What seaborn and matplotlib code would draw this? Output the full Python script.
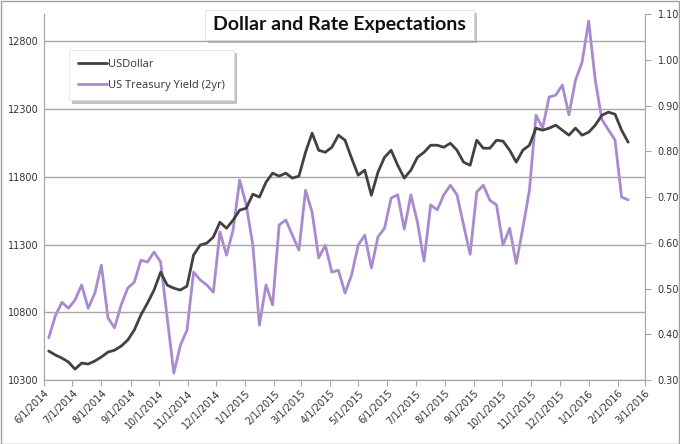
import numpy as np
import pandas as pd
import matplotlib
matplotlib.use("Agg")
import matplotlib.pyplot as plt
import matplotlib.dates as mdates
from matplotlib.patches import Rectangle
import seaborn as sns

# weekly readings, Fridays 6/6/2014 .. 2/12/2016
dates = pd.date_range("2014-06-06", "2016-02-12", freq="W-FRI")

usd = [10514, 10485, 10462, 10433, 10380, 10425, 10418, 10440, 10470, 10506,
       10520, 10550, 10595, 10669, 10780, 10868, 10964, 11096, 11000, 10978,
       10964, 10993, 11222, 11296, 11310, 11355, 11465, 11420, 11480, 11554,
       11568, 11672, 11650, 11760, 11827, 11805, 11827, 11790, 11805, 11981,
       12122, 11996, 11981, 12018, 12107, 12070, 11937, 11812, 11849, 11664,
       11834, 11944, 11996, 11885, 11790, 11849, 11944, 11981, 12033, 12033,
       12018, 12048, 11996, 11908, 11885, 12070, 12011, 12011, 12070, 12063,
       11996, 11908, 11996, 12033, 12159, 12144, 12159, 12181, 12144, 12107,
       12159, 12107, 12129, 12181, 12254, 12277, 12262, 12144, 12055]

yield_2yr = [0.392, 0.440, 0.470, 0.457, 0.475, 0.508, 0.457, 0.490, 0.551, 0.436,
             0.414, 0.464, 0.501, 0.514, 0.562, 0.558, 0.580, 0.558, 0.436, 0.315,
             0.376, 0.409, 0.536, 0.519, 0.508, 0.492, 0.624, 0.573, 0.628, 0.737,
             0.683, 0.595, 0.420, 0.508, 0.464, 0.639, 0.650, 0.617, 0.584, 0.715,
             0.667, 0.567, 0.595, 0.536, 0.540, 0.490, 0.530, 0.595, 0.617, 0.545,
             0.613, 0.632, 0.698, 0.705, 0.630, 0.705, 0.645, 0.560, 0.683, 0.672,
             0.705, 0.726, 0.705, 0.639, 0.575, 0.711, 0.726, 0.693, 0.683, 0.595,
             0.632, 0.555, 0.632, 0.715, 0.879, 0.851, 0.919, 0.923, 0.945, 0.880,
             0.956, 0.995, 1.085, 0.956, 0.870, 0.847, 0.825, 0.700, 0.694]

usd_ticks = [10300, 10800, 11300, 11800, 12300, 12800]
yield_ticks = [0.30, 0.40, 0.50, 0.60, 0.70, 0.80, 0.90, 1.00, 1.10]

df = pd.DataFrame({"Date": dates, "USDollar": usd, "Yield": yield_2yr})

sns.set_style("white")
plt.rcParams["font.family"] = ["DejaVu Sans"]

fig = plt.figure(figsize=(6.8, 4.44), dpi=100)
ax = fig.add_axes([0.0647, 0.1441, 0.884, 0.8239])
ax2 = ax.twinx()

dark = "#424242"
purple = "#a98ad0"
grid_c = "#a6a6a6"

sns.lineplot(data=df, x="Date", y="Yield", ax=ax2, color=purple, linewidth=2.0,
             label="US Treasury Yield (2yr)", legend=False)
sns.lineplot(data=df, x="Date", y="USDollar", ax=ax, color=dark, linewidth=2.0,
             label="USDollar", legend=False)

# draw dollar on top of yield
ax.set_zorder(ax2.get_zorder() + 1)
ax.patch.set_visible(False)

ax.set_ylim(10300, 13000)
ax.set_yticks(usd_ticks)
ax2.set_ylim(0.30, 1.10)
ax2.set_yticks(yield_ticks)
ax2.yaxis.set_major_formatter(plt.FuncFormatter(lambda v, p: f"{v:.2f}"))

ax.set_xlim(pd.Timestamp("2014-06-01"), pd.Timestamp("2016-03-01"))
ax.xaxis.set_major_locator(mdates.MonthLocator())
ax.xaxis.set_major_formatter(plt.FuncFormatter(
    lambda v, p: (lambda d: f"{d.month}/{d.day}/{d.year}")(mdates.num2date(v))))
for lab in ax.get_xticklabels():
    lab.set_rotation(45)
    lab.set_ha("right")
    lab.set_rotation_mode("anchor")

ax.set_xlabel("")
ax.set_ylabel("")
ax2.set_ylabel("")

ax.grid(axis="y", color=grid_c, linewidth=1)
ax.grid(axis="x", visible=False)
ax2.grid(False)

for a in (ax, ax2):
    for s in a.spines.values():
        s.set_color(grid_c)
    a.spines["top"].set_visible(False)
ax.tick_params(axis="y", length=0, labelsize=7, labelcolor="#333333", pad=4)
ax.tick_params(axis="x", length=4, color=grid_c, direction="out", bottom=True,
               labelsize=7, labelcolor="#333333", pad=2)
ax2.tick_params(axis="y", length=4, color=grid_c, direction="out", right=True,
                labelsize=7, labelcolor="#333333", pad=5)

# legend with shadow
h1, l1 = ax.get_legend_handles_labels()
h2, l2 = ax2.get_legend_handles_labels()
leg = fig.legend(h1 + h2, l1 + l2, loc="upper left", bbox_to_anchor=(0.1015, 0.887),
                 borderaxespad=0, frameon=True, fancybox=False,
                 shadow={"color": "#9a9a9a", "alpha": 0.6},
                 handlelength=2.6, handletextpad=0.1, labelspacing=0.9,
                 borderpad=0.8, prop={"family": "Open Sans", "size": 8})
leg.get_frame().set_edgecolor("#e0e0e0")
leg.get_frame().set_linewidth(0.5)
for t in leg.get_texts():
    t.set_color("#333333")

# title in a shadowed box
bx, by, bw, bh = 0.3015, 0.9099, 0.3956, 0.0676
fig.patches.append(Rectangle((bx + 0.0044, by - 0.0068), bw, bh, transform=fig.transFigure,
                             facecolor="#a8a8a8", edgecolor="none", alpha=0.7, zorder=5))
fig.patches.append(Rectangle((bx, by), bw, bh, transform=fig.transFigure,
                             facecolor="white", edgecolor="#d8d8d8", linewidth=0.5, zorder=6))
fig.text(bx + bw / 2, by + bh / 2, "Dollar and Rate Expectations", ha="center", va="center",
         fontsize=14, fontweight="bold", family="Lato", color="#111111", zorder=7)

# outer border
fig.patches.append(Rectangle((0.001, 0.001), 0.998, 0.997, transform=fig.transFigure,
                             fill=False, edgecolor="#a0a0a0", linewidth=1))

fig.savefig("out.png", dpi=100)
